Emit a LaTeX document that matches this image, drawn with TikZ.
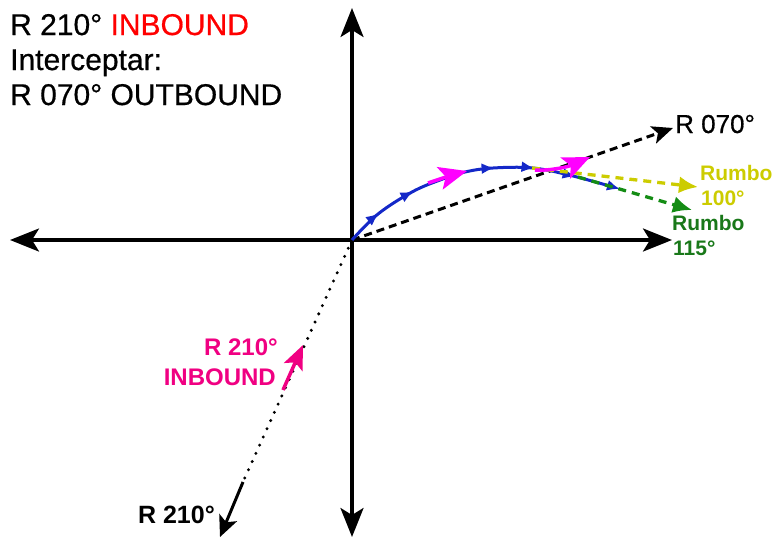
\documentclass[tikz,border=0pt]{standalone}
\usepackage{fontspec}
\setmainfont{Liberation Sans}
\newfontfamily\heavyfont[FakeBold=0.6]{Liberation Sans}
\usetikzlibrary{arrows.meta,decorations.markings}
\definecolor{pinklbl}{RGB}{240,0,130}
\definecolor{magarrow}{RGB}{255,0,255}
\definecolor{yel}{RGB}{204,204,0}
\definecolor{grntxt}{RGB}{25,120,25}
\definecolor{grnarr}{RGB}{20,140,20}
\definecolor{bluec}{RGB}{20,40,200}
\tikzset{
  axis/.style={line width=3.2pt, {Stealth[length=29pt,width=23pt,inset=7pt]}-{Stealth[length=29pt,width=23pt,inset=7pt]}},
  radial/.style={line width=3pt, dash pattern=on 8pt off 5pt, -{Stealth[length=21pt,width=18pt,inset=5pt]}},
  heading/.style={line width=3.3pt, dash pattern=on 8pt off 6pt, -{Latex[length=19pt,width=17pt]}},
  dotline/.style={line width=3.3pt, line cap=round, dash pattern=on 0pt off 9pt},
  pinkarr/.style={magarrow, line width=3.5pt, -{Stealth[length=28pt,width=23pt,inset=6pt]}},
  bluearr/.style={bluec, line width=3pt},
  lbl/.style={inner sep=0pt}
}
\begin{document}
\begin{tikzpicture}[x=1pt,y=-1pt]
\useasboundingbox (0,0) rectangle (773,539);
% coordinates
\coordinate (O) at (352,240);
\coordinate (N) at (352,8);
\coordinate (S) at (352,537);
\coordinate (W) at (10,240);
\coordinate (E) at (672,240);
\coordinate (R70) at (673,128);
\coordinate (D1) at (243,482);
\coordinate (D2) at (220,537);
\coordinate (PI1) at (283,390);
\coordinate (PI2) at (303,345);
\coordinate (Y1) at (532,168);
\coordinate (Y2) at (698,187);
\coordinate (G1) at (578,177);
\coordinate (G2) at (692,210);
\coordinate (P1s) at (428,183);
\coordinate (P1e) at (467,171);
\coordinate (P2s) at (535,170);
\coordinate (P2e) at (590,157);
% axes
\draw[axis] (S) -- (N);
\draw[axis] (W) -- (E);
% R 070 dashed radial
\draw[radial] (O) -- (R70);
% R 210 dotted
\draw[dotline] (O) -- (D1);
\draw[line width=3pt, -{Stealth[length=21pt,width=19pt,inset=5pt]}] (D1) -- (D2);
\draw[pinklbl, line width=3.5pt, -{Stealth[length=24pt,width=20pt,inset=5pt]}] (PI1) -- (PI2);
% blue curve
\draw[bluearr, -{Latex[length=13pt,width=11pt]},
  postaction={decorate},
  decoration={markings,
    mark=at position 38pt with {\arrow{Latex[length=13pt,width=11pt]}},
    mark=at position 79pt with {\arrow{Latex[length=13pt,width=11pt]}},
    mark=at position 164pt with {\arrow{Latex[length=13pt,width=11pt]}},
    mark=at position 204pt with {\arrow{Latex[length=13pt,width=11pt]}},
    mark=at position 246pt with {\arrow{Latex[length=13pt,width=11pt]}}}]
  plot[smooth, tension=0.6] coordinates {(352,240) (378,214) (412,192) (440,180) (465,172) (493,168) (533,168) (573,176) (620,189)};
% headings
\draw[heading, yel] (Y1) -- (Y2);
\draw[heading, grnarr] (G1) -- (G2);
% pink arrows on curve
\draw[pinkarr] (P1s) .. controls (440,179) and (452,175) .. (P1e);
\draw[pinkarr, -{Stealth[length=27pt,width=23pt,inset=6pt]}] (P2s) .. controls (552,171) and (570,166) .. (P2e);
% texts
\node[lbl, anchor=base west, font=\heavyfont\fontsize{30}{35}\selectfont] (t1) at (10,35) {R 210° \textcolor{red}{INBOUND}};
\node[lbl, anchor=base west, font=\heavyfont\fontsize{30}{35}\selectfont] (t2) at (10,70) {Interceptar:};
\node[lbl, anchor=base west, font=\heavyfont\fontsize{30}{35}\selectfont] (t3) at (10,105) {R 070° OUTBOUND};
\node[lbl, anchor=base west, font=\heavyfont\fontsize{26}{30}\selectfont] (l70) at (675,133) {R 070°};
\node[lbl, anchor=base west, font=\bfseries\fontsize{21}{25}\selectfont, text=yel] (ly1) at (700,180) {Rumbo};
\node[lbl, anchor=base west, font=\bfseries\fontsize{21}{25}\selectfont, text=yel] (ly2) at (701,205) {100°};
\node[lbl, anchor=base west, font=\bfseries\fontsize{21}{25}\selectfont, text=grntxt] (lg1) at (672,230) {Rumbo};
\node[lbl, anchor=base west, font=\bfseries\fontsize{21}{25}\selectfont, text=grntxt] (lg2) at (673,255) {115°};
\node[lbl, anchor=base east, font=\bfseries\fontsize{24}{30}\selectfont, text=pinklbl] (lp1) at (278,355) {R 210°};
\node[lbl, anchor=base east, font=\bfseries\fontsize{24}{30}\selectfont, text=pinklbl] (lp2) at (276,385) {INBOUND};
\node[lbl, anchor=base east, font=\bfseries\fontsize{25}{30}\selectfont] (l210) at (215,523) {R 210°};
\end{tikzpicture}
\end{document}
